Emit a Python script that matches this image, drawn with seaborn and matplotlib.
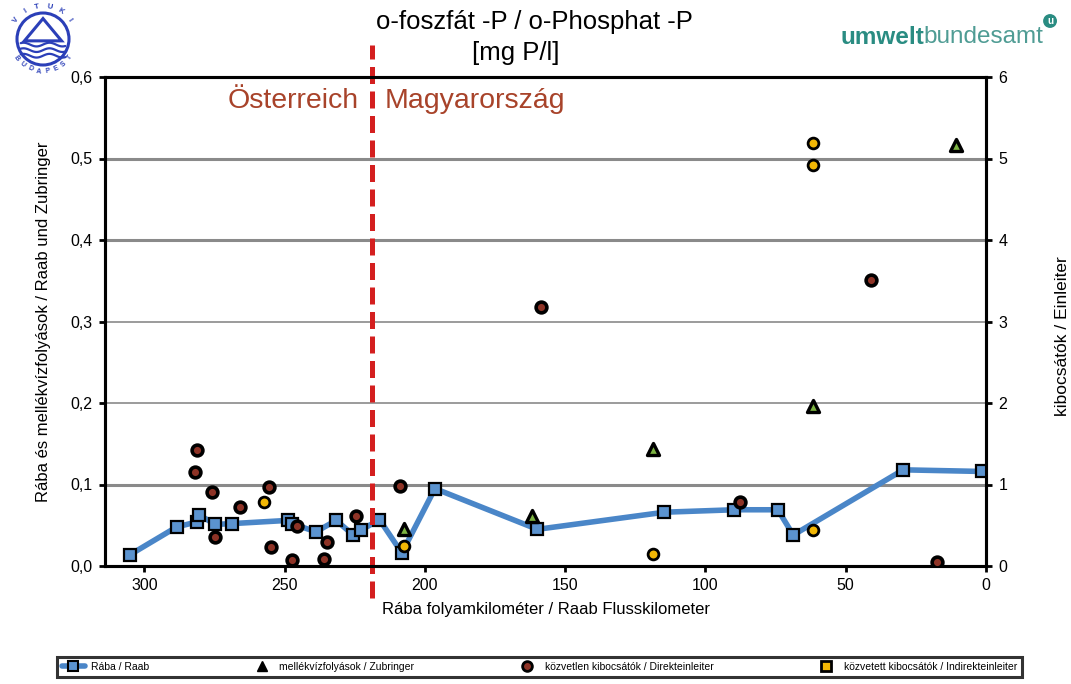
import numpy as np
import pandas as pd
import matplotlib
matplotlib.use("Agg")
import matplotlib.pyplot as plt
import seaborn as sns
from matplotlib.lines import Line2D
from matplotlib.patches import Circle, Polygon

# --- adatok / Daten ---
raba_km = [305, 288.4, 281.3, 280.5, 274.8, 268.8, 248.6, 247.4, 238.8, 231.6, 225.5,
           222.7, 216.2, 208.2, 196.4, 159.9, 114.6, 89.7, 74.2, 68.7, 29.5, 1.5]
raba_p = [0.014, 0.048, 0.054, 0.063, 0.051, 0.052, 0.056, 0.052, 0.042, 0.056, 0.038,
          0.044, 0.057, 0.016, 0.095, 0.045, 0.066, 0.069, 0.069, 0.038, 0.118, 0.116]

trib_km = [207.6, 161.9, 118.6, 61.5, 10.8]
trib_p = [0.046, 0.061, 0.144, 0.196, 0.517]

# kibocsátók -> jobb tengely (0-6)
direct_km = [281.1, 281.9, 275.9, 274.8, 265.9, 255.4, 254.9, 247.4, 245.4, 235.9, 235.0,
             224.5, 208.8, 158.6, 87.7, 41.1, 17.3]
direct_val = [1.42, 1.15, 0.91, 0.35, 0.72, 0.97, 0.23, 0.07, 0.49, 0.09, 0.29,
              0.61, 0.98, 3.18, 0.78, 3.51, 0.05]

indirect_km = [257.5, 207.6, 118.8, 61.5, 61.5, 61.5]
indirect_val = [0.79, 0.25, 0.15, 5.19, 4.92, 0.44]

border_km = 219
x_ticks = [300, 250, 200, 150, 100, 50, 0]
left_ticks = [0.0, 0.1, 0.2, 0.3, 0.4, 0.5, 0.6]
left_ticklabels = ["0,0", "0,1", "0,2", "0,3", "0,4", "0,5", "0,6"]
right_ticks = [0, 1, 2, 3, 4, 5, 6]
grid_levels = [0.1, 0.2, 0.3, 0.4, 0.5]
grid_widths = [2.2, 1.2, 1.2, 2.2, 2.2]

labels = ["Rába / Raab", "mellékvízfolyások / Zubringer",
          "közvetlen kibocsátók / Direkteinleiter",
          "közvetett kibocsátók / Indirekteinleiter"]

sns.set_style("white")
plt.rcParams['font.family'] = ['Liberation Sans', 'DejaVu Sans']
plt.rcParams['text.color'] = 'black'
plt.rcParams['axes.labelcolor'] = 'black'

fig = plt.figure(figsize=(10.71, 6.84), dpi=100)
ax = fig.add_axes([105 / 1071, 1 - 566 / 684, 881 / 1071, 489 / 684])
ax2 = ax.twinx()

for lvl, w in zip(grid_levels, grid_widths):
    ax.axhline(lvl, color="#8a8a8a", lw=w, zorder=0)

df_raba = pd.DataFrame({"km": raba_km, "p": raba_p})
sns.lineplot(data=df_raba, x="km", y="p", ax=ax, sort=False, color="#4a86c8", lw=4,
             marker="s", markersize=9, markerfacecolor="#5b93cf", markeredgecolor="black",
             markeredgewidth=1.6, zorder=3)
sns.scatterplot(x=trib_km, y=trib_p, ax=ax, marker="^", s=75, color="#7cb342",
                edgecolor="black", linewidth=2.4, zorder=4)

sns.scatterplot(x=direct_km, y=direct_val, ax=ax2, marker="o", s=60, color="#8e3326",
                edgecolor="black", linewidth=2.6, zorder=4)
sns.scatterplot(x=indirect_km, y=indirect_val, ax=ax2, marker="o", s=60, color="#f2b705",
                edgecolor="black", linewidth=2.0, zorder=4)

ax.set_xlim(314, 0)
ax.set_ylim(0, 0.6)
ax2.set_ylim(0, 6)
ax.set_xticks(x_ticks)
ax.set_yticks(left_ticks)
ax.set_yticklabels(left_ticklabels)
ax2.set_yticks(right_ticks)

for a in (ax, ax2):
    for s in a.spines.values():
        s.set_color("black")
        s.set_linewidth(2.2)
    a.tick_params(axis="both", direction="out", length=4, width=2, colors="black",
                  labelsize=11.5, pad=5)
ax.tick_params(left=True, bottom=True)
ax2.tick_params(right=True)

ax.set_xlabel("Rába folyamkilométer / Raab Flusskilometer", fontsize=12, labelpad=6)
ax.set_ylabel("Rába és mellékvízfolyások / Raab und Zubringer", fontsize=12, labelpad=14)
ax2.set_ylabel("kibocsátók / Einleiter", fontsize=12.5, rotation=90)
ax2.yaxis.set_label_coords(1.078, 0.47)

# országhatár / Staatsgrenze
ax.axvline(border_km, ymin=-0.065, ymax=1.065, clip_on=False, color="#d41f1f", lw=3.6,
           linestyle=(0, (3.4, 1.5)), zorder=5)
ax.text(223.5, 0.570, "Österreich", ha="right", va="center", fontsize=20.5, color="#a8432a")
ax.text(214.5, 0.570, "Magyarország", ha="left", va="center", fontsize=20.5, color="#a8432a")

fig.text(534 / 1071, 1 - 22 / 684, "o-foszfát -P / o-Phosphat -P", ha="center", va="center",
         fontsize=18.5)
fig.text(516 / 1071, 1 - 53 / 684, "[mg P/l]", ha="center", va="center", fontsize=18.5)

# umweltbundesamt felirat
teal = "#2a8c82"
t1 = fig.text(840 / 1071, 1 - 37 / 684, "umwelt", ha="left", va="center", fontsize=17.5,
              fontweight="bold", color=teal)
fig.canvas.draw()
bb = t1.get_window_extent()
t2 = fig.text(bb.x1 / 1071, 1 - 37 / 684, "bundesamt", ha="left", va="center",
              fontsize=17.5, color="#4f9c94")
fig.canvas.draw()
bb2 = t2.get_window_extent()
fig.text(bb2.x1 / 1071 + 0.006, 1 - 21 / 684, "u", ha="center", va="center", fontsize=7,
         color="white", fontweight="bold",
         bbox=dict(boxstyle="circle,pad=0.2", fc=teal, ec="none"))

# VITUKI logo
lax = fig.add_axes([4 / 1071, 1 - 78 / 684, 78 / 1071, 78 / 684])
lax.set_xlim(-1.05, 1.05)
lax.set_ylim(-1.05, 1.05)
lax.set_aspect("equal")
lax.axis("off")
blue = "#2b3fb8"
lax.add_patch(Circle((0, 0), 0.7, fill=False, ec=blue, lw=2.2))
lax.add_patch(Polygon([[-0.5, -0.05], [0, 0.55], [0.5, -0.05]], closed=True, fill=False,
                      ec=blue, lw=2.2))
wx = np.linspace(-0.6, 0.6, 40)
for off in (-0.15, -0.3, -0.45):
    lax.plot(wx, off + 0.05 * np.sin(wx * 9), color=blue, lw=1.6)
for ang, ch in zip(np.linspace(145, 35, 6), "VITUKI"):
    r = np.deg2rad(ang)
    lax.text(0.88 * np.cos(r), 0.88 * np.sin(r), ch, ha="center", va="center", fontsize=5.5,
             color=blue, rotation=ang - 90, fontweight="bold")
for ang, ch in zip(np.linspace(215, 325, 8), "BUDAPEST"):
    r = np.deg2rad(ang)
    lax.text(0.88 * np.cos(r), 0.88 * np.sin(r), ch, ha="center", va="center", fontsize=5,
             color=blue, rotation=ang + 90, fontweight="bold")

# jelmagyarázat
handles = [
    Line2D([], [], color="#4a86c8", lw=4, marker="s", markersize=7, markerfacecolor="#5b93cf",
           markeredgecolor="black", markeredgewidth=1.5),
    Line2D([], [], ls="none", marker="^", markersize=7, color="black"),
    Line2D([], [], ls="none", marker="o", markersize=7, markerfacecolor="#8e3326",
           markeredgecolor="black", markeredgewidth=2),
    Line2D([], [], ls="none", marker="s", markersize=7, markerfacecolor="#f2b705",
           markeredgecolor="black", markeredgewidth=2),
]
leg = fig.legend(handles, labels, loc="center", ncol=4, mode="expand", fontsize=7.5,
                 bbox_to_anchor=(57 / 1071, 1 - 679 / 684, 965 / 1071, 24 / 684),
                 frameon=True, fancybox=False, borderaxespad=0, handlelength=2.2,
                 handletextpad=0.6, borderpad=0.45)
leg.get_frame().set_edgecolor("black")
leg.get_frame().set_linewidth(2.2)

fig.savefig("out.png", dpi=100)
